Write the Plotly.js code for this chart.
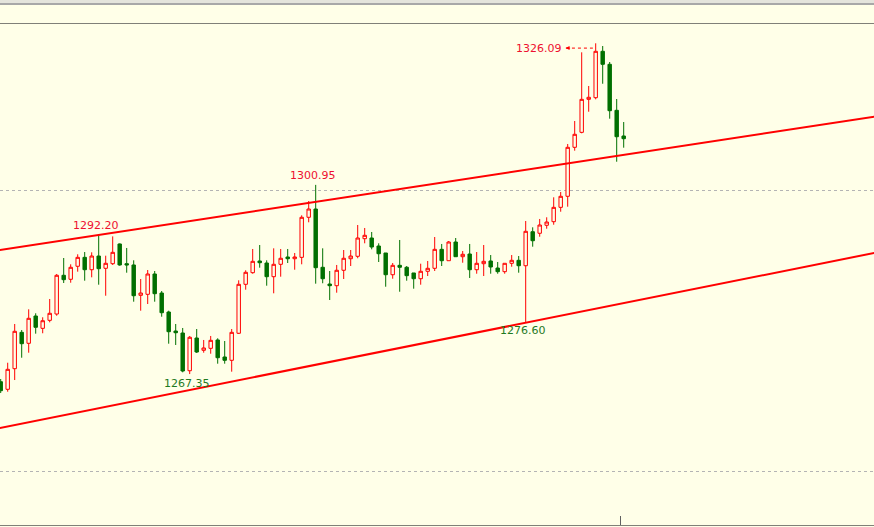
<!DOCTYPE html>
<html>
<head>
<meta charset="utf-8">
<script src="https://cdn.plot.ly/plotly-3.0.1.min.js"></script>
<style>html,body{margin:0;padding:0;background:#FFFFE8;}#chart{width:874px;height:527px;}</style>
</head>
<body>
<div id="chart"></div>
<script>
// Bar index (time axis) and OHLC prices
const bars = Array.from({length: 90}, (_, i) => i);
const open = [1265.99,1264.64,1268.30,1274.76,1272.81,1277.66,1275.47,1276.89,1278.01,1284.89,
1284.18,1286.49,1288.08,1285.88,1288.31,1286.13,1286.95,1290.45,1286.95,1286.72,
1281.33,1281.51,1285.12,1281.74,1278.37,1274.99,1274.64,1267.94,1273.75,1271.57,
1271.92,1273.40,1270.38,1269.79,1274.59,1283.29,1285.35,1287.43,1287.07,1284.64,
1286.84,1288.14,1287.83,1288.08,1295.19,1296.66,1286.31,1283.34,1283.04,1285.78,
1287.83,1288.26,1291.39,1291.51,1290.09,1288.85,1284.99,1286.66,1286.31,1285.30,
1284.28,1285.60,1286.13,1289.50,1287.48,1290.80,1288.19,1288.67,1285.88,1286.95,
1287.43,1286.18,1285.53,1287.02,1287.55,1286.59,1292.63,1292.35,1293.77,1294.41,
1296.96,1298.92,1307.62,1310.28,1316.14,1316.43,1324.67,1322.36,1314.19,1309.63];
const high = [1266.47,1269.36,1276.24,1275.17,1278.85,1278.14,1277.43,1280.68,1285.12,1287.96,
1286.84,1288.62,1289.02,1288.97,1292.20,1288.37,1291.80,1290.54,1289.74,1287.55,
1284.23,1285.83,1285.65,1282.10,1278.60,1276.24,1275.53,1274.11,1275.35,1273.40,
1274.11,1273.70,1273.22,1275.35,1284.00,1285.78,1289.56,1290.27,1287.55,1289.68,
1289.56,1289.56,1288.85,1295.54,1298.08,1300.95,1289.68,1285.65,1286.72,1289.38,
1289.38,1293.82,1293.29,1292.58,1290.57,1288.85,1287.07,1291.16,1286.54,1285.30,
1286.95,1287.43,1291.69,1290.45,1290.98,1291.51,1289.20,1290.45,1289.02,1290.27,
1288.49,1287.25,1287.02,1288.49,1288.31,1294.53,1293.41,1294.89,1295.19,1298.74,
1299.68,1308.21,1312.29,1324.49,1318.51,1326.09,1325.61,1322.77,1316.20,1312.11];
const low = [1263.98,1264.21,1266.29,1270.25,1271.14,1274.52,1274.59,1276.54,1277.71,1283.52,
1283.57,1285.53,1283.93,1284.53,1283.22,1281.26,1286.72,1286.59,1285.35,1280.20,
1278.60,1279.79,1280.20,1277.53,1272.74,1272.51,1267.66,1267.35,1271.09,1271.14,
1270.96,1269.19,1269.19,1267.77,1274.46,1282.33,1285.17,1286.24,1283.04,1281.69,
1284.64,1287.07,1285.88,1286.84,1294.30,1283.40,1283.47,1280.50,1281.80,1284.23,
1286.54,1287.91,1290.57,1289.50,1287.25,1282.86,1284.28,1281.97,1283.93,1282.51,
1283.22,1284.76,1285.65,1286.54,1287.48,1288.19,1287.12,1284.41,1285.17,1284.76,
1285.17,1285.17,1285.17,1286.41,1285.35,1276.60,1289.97,1291.74,1293.16,1293.87,
1296.18,1297.07,1307.02,1310.10,1313.94,1316.14,1318.91,1312.70,1305.06,1307.55];
const close = [1264.39,1268.19,1274.94,1272.74,1277.25,1275.65,1276.82,1278.14,1284.89,1284.11,
1286.31,1288.08,1285.88,1288.31,1286.06,1287.02,1288.97,1286.72,1286.72,1281.26,
1281.74,1285.12,1281.62,1278.24,1274.87,1274.69,1267.89,1273.88,1271.26,1271.98,
1273.34,1270.25,1269.79,1274.76,1283.29,1285.42,1287.37,1287.12,1284.64,1286.84,
1287.91,1287.83,1288.14,1295.19,1296.66,1286.24,1284.28,1283.04,1285.78,1287.91,
1288.31,1291.51,1291.99,1289.91,1288.72,1284.99,1286.66,1286.31,1284.82,1284.28,
1285.60,1286.13,1289.50,1287.48,1290.80,1288.19,1288.62,1285.88,1287.02,1287.37,
1286.36,1285.53,1287.02,1287.55,1286.59,1292.70,1291.03,1293.82,1294.35,1296.96,
1298.92,1307.62,1309.93,1316.14,1316.50,1324.67,1322.36,1314.12,1309.50,1309.15];

// Trend lines (anchor points: bar index, price)
const upperLineX = [-1, 125];
const upperLineY = [1289.21, 1313.10];
const lowerLineX = [-1, 125];
const lowerLineY = [1257.55, 1288.91];

// Swing labels
const swingBar = [85, 45, 14, 27, 75];
const swingPrice = [1326.09, 1300.95, 1292.20, 1267.35, 1276.60];
const swingKind = ['high', 'high', 'high', 'low', 'low'];
const swingText = ['1326.09', '1300.95', '1292.20', '1267.35', '1276.60'];

const BG = '#FFFFE8';
const RED = '#FF0000';
const GREEN = '#007000';

const traces = [
  {type: 'scatter', mode: 'lines', x: upperLineX, y: upperLineY,
   line: {color: RED, width: 2}, hoverinfo: 'skip'},
  {type: 'scatter', mode: 'lines', x: lowerLineX, y: lowerLineY,
   line: {color: RED, width: 2}, hoverinfo: 'skip'},
  {type: 'candlestick', x: bars, open: open, high: high, low: low, close: close,
   increasing: {line: {color: RED, width: 1}, fillcolor: BG},
   decreasing: {line: {color: GREEN, width: 1}, fillcolor: GREEN},
   whiskerwidth: 0, hoverinfo: 'skip'},
  // dotted pointer from the top label to the top bar
  {type: 'scatter', mode: 'lines', x: [swingBar[0] - 4.25, swingBar[0] - 0.4],
   y: [swingPrice[0] - 0.85, swingPrice[0] - 0.85],
   line: {color: RED, width: 1, dash: 'dot'}, hoverinfo: 'skip'}
];

const annotations = swingBar.map((b, k) => {
  const isHigh = swingKind[k] === 'high';
  const a = {
    x: b, y: swingPrice[k], xref: 'x', yref: 'y', text: swingText[k], showarrow: false,
    font: {family: 'DejaVu Sans, sans-serif', size: 11, color: isHigh ? '#EE1030' : '#1F7A1F'},
    xanchor: 'center', yanchor: 'middle', xshift: -2.5,
    yshift: isHigh ? 9 : -9
  };
  if (k === 0) { a.xanchor = 'right'; a.xshift = -32; a.yshift = -5.5; }
  return a;
});
annotations.push({
  x: swingBar[0] - 4.3, y: swingPrice[0] - 0.85, xref: 'x', yref: 'y', text: '',
  showarrow: true, arrowhead: 2, arrowsize: 0.8, arrowwidth: 1, arrowcolor: RED,
  ax: 6, ay: 0
});

const layout = {
  width: 874, height: 527,
  margin: {l: 0, r: 0, t: 24, b: 2, pad: 0},
  paper_bgcolor: BG, plot_bgcolor: BG,
  showlegend: false,
  xaxis: {range: [-0.1, 124.76], showgrid: false, zeroline: false, showticklabels: false,
          rangeslider: {visible: false}, showline: true, mirror: true, linecolor: '#808078', linewidth: 1,
          ticks: 'inside', tickvals: [88.5], ticklen: 9, tickcolor: '#606060', tickwidth: 1},
  yaxis: {range: [1240.54, 1329.52], showgrid: true, gridcolor: '#B4B4B4', griddash: 'dot', gridwidth: 1,
          tickvals: [1250, 1300], showticklabels: false, zeroline: false, ticks: ''},
  shapes: [
    {type: 'rect', xref: 'paper', yref: 'paper', x0: 0, x1: 1, y0: 1 + 21/501, y1: 1 + 24/501,
     fillcolor: '#E4E4DC', line: {width: 0}, layer: 'below'},
    {type: 'line', xref: 'paper', yref: 'paper', x0: 0, x1: 1, y0: 1 + 20/501, y1: 1 + 20/501,
     line: {color: '#A8A8A8', width: 2}}
  ],
  annotations: annotations
};

Plotly.newPlot('chart', traces, layout, {staticPlot: true, displayModeBar: false});
</script>
</body>
</html>
